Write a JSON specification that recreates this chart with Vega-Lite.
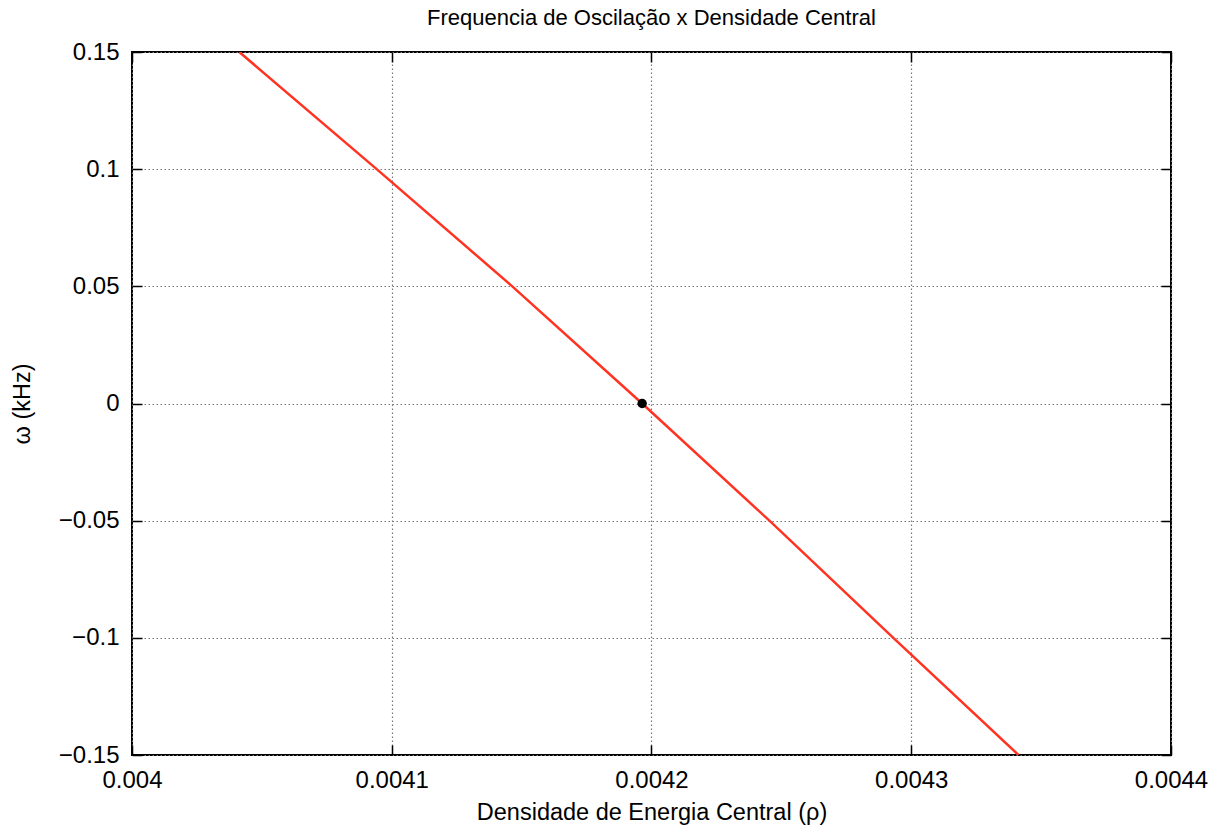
{
  "$schema": "https://vega.github.io/schema/vega-lite/v6.json",
  "autosize": {"type": "none"},
  "width": 1039,
  "height": 703,
  "padding": {"left": 132, "top": 52, "right": 52, "bottom": 76},
  "background": "white",
  "title": {
    "text": "Frequencia de Oscilação x Densidade Central",
    "font": "Liberation Sans",
    "fontSize": 22,
    "fontWeight": "normal",
    "color": "black",
    "offset": 10
  },
  "config": {
    "view": {"stroke": "black", "strokeWidth": 2},
    "axis": {
      "labelFont": "Liberation Sans",
      "labelFontSize": 24,
      "labelColor": "black",
      "titleFont": "Liberation Sans",
      "titleFontSize": 23.5,
      "titleFontWeight": "normal",
      "titleColor": "black",
      "domain": false,
      "tickColor": "black",
      "tickWidth": 1.5,
      "gridColor": "#777777",
      "gridDash": [1.5, 2.5],
      "gridWidth": 1.2,
      "gridOpacity": 1
    }
  },
  "datasets": {
    "curve": [
      {"rho": 0.0040413, "omega": 0.15},
      {"rho": 0.0040942, "omega": 0.10},
      {"rho": 0.0041464, "omega": 0.05},
      {"rho": 0.0041964, "omega": 0.0},
      {"rho": 0.0042454, "omega": -0.05},
      {"rho": 0.0042931, "omega": -0.10},
      {"rho": 0.0043413, "omega": -0.15}
    ],
    "zeroPoint": [
      {"rho": 0.0041964, "omega": 0.0}
    ]
  },
  "layer": [
    {
      "data": {"name": "curve"},
      "mark": {"type": "line", "color": "#ff3322", "strokeWidth": 2.5, "clip": true},
      "encoding": {
        "x": {
          "field": "rho", "type": "quantitative",
          "scale": {"domain": [0.004, 0.0044], "nice": false, "zero": false},
          "axis": {
            "orient": "bottom",
            "title": "Densidade de Energia Central (ρ)",
            "values": [0.004, 0.0041, 0.0042, 0.0043, 0.0044],
            "format": ".4~f",
            "tickSize": -10,
            "labelPadding": 23,
            "labelFlush": false,
            "labelOverlap": false,
            "titleY": 64,
            "titleBaseline": "alphabetic",
            "grid": true
          }
        },
        "y": {
          "field": "omega", "type": "quantitative",
          "scale": {"domain": [-0.15, 0.15], "nice": false, "zero": false},
          "axis": {
            "orient": "left",
            "title": "ω (kHz)",
            "values": [-0.15, -0.1, -0.05, 0, 0.05, 0.1, 0.15],
            "format": ".2~f",
            "tickSize": -10,
            "labelPadding": 23,
            "labelFlush": false,
            "labelOverlap": false,
            "titleX": -110,
            "titleY": 351.5,
            "titleAngle": -90,
            "titleAlign": "center",
            "titleBaseline": "middle",
            "grid": true
          }
        }
      }
    },
    {
      "data": {"name": "zeroPoint"},
      "mark": {"type": "point", "filled": true, "color": "black", "size": 90, "opacity": 1},
      "encoding": {
        "x": {
          "field": "rho", "type": "quantitative",
          "scale": {"domain": [0.004, 0.0044], "nice": false, "zero": false},
          "axis": {
            "orient": "top",
            "title": null,
            "values": [0.004, 0.0041, 0.0042, 0.0043, 0.0044],
            "labels": false,
            "tickSize": -10,
            "grid": false
          }
        },
        "y": {
          "field": "omega", "type": "quantitative",
          "scale": {"domain": [-0.15, 0.15], "nice": false, "zero": false},
          "axis": {
            "orient": "right",
            "title": null,
            "values": [-0.15, -0.1, -0.05, 0, 0.05, 0.1, 0.15],
            "labels": false,
            "tickSize": -10,
            "grid": false
          }
        }
      }
    }
  ],
  "resolve": {"axis": {"x": "independent", "y": "independent"}}
}
